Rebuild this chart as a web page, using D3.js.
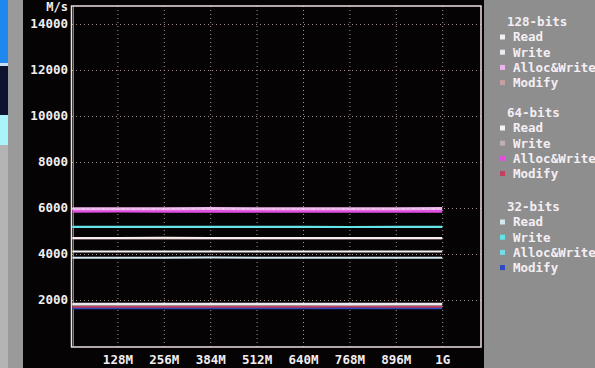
<!DOCTYPE html>
<html>
<head>
<meta charset="utf-8">
<script src="https://cdn.jsdelivr.net/npm/d3@7/dist/d3.min.js"></script>
<style>
  body { margin: 0; background: #8e8e8e; }
  svg { display: block; }
  text { font-family: "DejaVu Sans Mono", monospace; font-weight: bold; }
</style>
</head>
<body>
<div id="chart"></div>
<script>
// block sizes (MB) sampled along the x axis
const sizes = [4, 128, 256, 384, 512, 640, 768, 896, 1024];
const xTickValues = [128, 256, 384, 512, 640, 768, 896, 1024];
const xTickLabels = ["128M", "256M", "384M", "512M", "640M", "768M", "896M", "1G"];
const yTickValues = [2000, 4000, 6000, 8000, 10000, 12000, 14000];

const groups = ["128-bits", "64-bits", "32-bits"];
const ops = ["Read", "Write", "Alloc&Write", "Modify"];

// bandwidth in M/s
const read128   = [4700, 4700, 4705, 4700, 4700, 4695, 4700, 4700, 4700];
const write128  = [1830, 1830, 1830, 1832, 1830, 1830, 1828, 1830, 1830];
const alloc128  = [5970, 5965, 5970, 5975, 5970, 5965, 5970, 5970, 5975];
const modify128 = [4670, 4670, 4670, 4670, 4668, 4670, 4670, 4670, 4670];

const read64   = [4110, 4110, 4110, 4112, 4110, 4110, 4110, 4108, 4110];
const write64  = [1800, 1800, 1800, 1800, 1802, 1800, 1800, 1800, 1800];
const alloc64  = [5860, 5865, 5860, 5858, 5860, 5862, 5860, 5860, 5860];
const modify64 = [1715, 1715, 1712, 1715, 1715, 1715, 1718, 1715, 1715];

const read32   = [3840, 3840, 3840, 3842, 3840, 3840, 3840, 3838, 3840];
const write32  = [5180, 5180, 5182, 5180, 5180, 5180, 5178, 5180, 5180];
const alloc32  = [5170, 5170, 5170, 5170, 5168, 5170, 5170, 5172, 5170];
const modify32 = [1640, 1640, 1640, 1642, 1640, 1640, 1640, 1640, 1640];

const colors = {
  "128-bits": ["#f4f0f2", "#ece8f0", "#ecb4ea", "#c8a0a0"],
  "64-bits":  ["#f4f2f2", "#c0b0b0", "#e050e0", "#c04060"],
  "32-bits":  ["#d4e8f0", "#62e4e8", "#74dce8", "#3048c0"]
};

const series = [
  // drawn back to front
  { group: "32-bits", op: 3, values: modify32, w: 2.2 },
  { group: "64-bits", op: 3, values: modify64, w: 2.2 },
  { group: "64-bits", op: 1, values: write64, w: 2.2 },
  { group: "128-bits", op: 1, values: write128, w: 2.4 },
  { group: "32-bits", op: 0, values: read32, w: 2 },
  { group: "64-bits", op: 0, values: read64, w: 2 },
  { group: "128-bits", op: 3, values: modify128, w: 2 },
  { group: "128-bits", op: 0, values: read128, w: 2 },
  { group: "32-bits", op: 2, values: alloc32, w: 2 },
  { group: "32-bits", op: 1, values: write32, w: 2 },
  { group: "64-bits", op: 2, values: alloc64, w: 3 },
  { group: "128-bits", op: 2, values: alloc128, w: 3 }
];

const W = 595, H = 368;
const svg = d3.select("#chart").append("svg")
  .attr("width", W)
  .attr("height", H);

// screen surroundings
svg.append("rect").attr("x", 0).attr("y", 0).attr("width", W).attr("height", H).attr("fill", "#8e8e8e");
svg.append("rect").attr("x", 0).attr("y", 0).attr("width", 23).attr("height", H).attr("fill", "#9a9a9a");
svg.append("rect").attr("x", 0).attr("y", 0).attr("width", 8).attr("height", 63).attr("fill", "#1e88f0");
svg.append("rect").attr("x", 0).attr("y", 63).attr("width", 8).attr("height", 3).attr("fill", "#c8e0f0");
svg.append("rect").attr("x", 0).attr("y", 66).attr("width", 8).attr("height", 49).attr("fill", "#0c1430");
svg.append("rect").attr("x", 0).attr("y", 115).attr("width", 8).attr("height", 30).attr("fill", "#a8f4fa");
svg.append("rect").attr("x", 0).attr("y", 145).attr("width", 8).attr("height", H - 145).attr("fill", "#b4b4b4");
svg.append("rect").attr("x", 23).attr("y", 0).attr("width", 461).attr("height", H).attr("fill", "#060304");

const x = d3.scaleLinear().domain([0, 1131]).range([71, 481]);
const y = d3.scaleLinear().domain([0, 14780]).range([346, 6]);

// dotted grid
svg.append("g")
  .attr("transform", "translate(0,6)")
  .call(d3.axisBottom(x).tickValues(xTickValues).tickSize(341).tickFormat(""))
  .call(g => g.select(".domain").remove())
  .selectAll("line")
  .attr("stroke", "#a89494")
  .attr("stroke-dasharray", "1,3");

svg.append("g")
  .attr("transform", "translate(481,0)")
  .call(d3.axisLeft(y).tickValues(yTickValues).tickSize(410).tickFormat(""))
  .call(g => g.select(".domain").remove())
  .selectAll("line")
  .attr("stroke", "#a89494")
  .attr("stroke-dasharray", "1,3");

// frame
svg.append("rect")
  .attr("x", 71.5).attr("y", 6)
  .attr("width", 409.5).attr("height", 341)
  .attr("fill", "none")
  .attr("stroke", "#ece0e0")
  .attr("stroke-width", 1.5);
svg.append("line")
  .attr("x1", 73.5).attr("x2", 73.5).attr("y1", 7).attr("y2", 346)
  .attr("stroke", "#a8d8e8").attr("stroke-opacity", 0.6);

// axes labels
const yAxis = svg.append("g")
  .attr("transform", "translate(71,0)")
  .call(d3.axisLeft(y).tickValues(yTickValues).tickSize(0).tickPadding(3).tickFormat(d3.format("d")));
yAxis.select(".domain").remove();
yAxis.selectAll("text")
  .attr("fill", "#f2eef0")
  .style("font-size", "12.5px")
  .style("font-family", "DejaVu Sans Mono, monospace");

svg.append("text")
  .attr("x", 68).attr("y", 11)
  .attr("text-anchor", "end")
  .attr("fill", "#f2eef0")
  .style("font-size", "12px")
  .text("M/s");

const xAxis = svg.append("g")
  .attr("transform", "translate(0,347)")
  .call(d3.axisBottom(x).tickValues(xTickValues).tickSize(0).tickPadding(8)
    .tickFormat((d, i) => xTickLabels[i]));
xAxis.select(".domain").remove();
xAxis.selectAll("text")
  .attr("fill", "#f2eef0")
  .style("font-size", "12.5px")
  .style("font-family", "DejaVu Sans Mono, monospace");

// data lines
const line = d3.line()
  .x((d, i) => x(sizes[i]))
  .y(d => y(d));

const lines = svg.append("g");
lines.selectAll("path")
  .data(series)
  .enter()
  .append("path")
  .attr("d", d => line(d.values))
  .attr("fill", "none")
  .attr("stroke", d => colors[d.group][d.op])
  .attr("stroke-width", d => d.w);

// the 128-bit alloc trace is speckled on the screen
lines.append("path")
  .attr("d", line(alloc128))
  .attr("fill", "none")
  .attr("stroke", "#ffffff")
  .attr("stroke-opacity", 0.55)
  .attr("stroke-width", 1)
  .attr("stroke-dasharray", "2,3,1,4");

// legend
const legend = svg.append("g");
const titleY = [22, 113, 207];
const itemGap = 15.2;
groups.forEach((grp, gi) => {
  legend.append("text")
    .attr("x", 507)
    .attr("y", titleY[gi])
    .attr("dy", "0.35em")
    .attr("fill", "#f4eef4")
    .style("font-size", "12.5px")
    .text(grp);
  ops.forEach((op, oi) => {
    const yy = titleY[gi] + 15 + oi * itemGap;
    legend.append("rect")
      .attr("x", 500).attr("y", yy - 2.5)
      .attr("width", 5).attr("height", 5)
      .attr("fill", colors[grp][oi]);
    legend.append("text")
      .attr("x", 513)
      .attr("y", yy)
      .attr("dy", "0.35em")
      .attr("fill", "#f4eef4")
      .style("font-size", "12.5px")
      .text(op);
  });
});
</script>
</body>
</html>
